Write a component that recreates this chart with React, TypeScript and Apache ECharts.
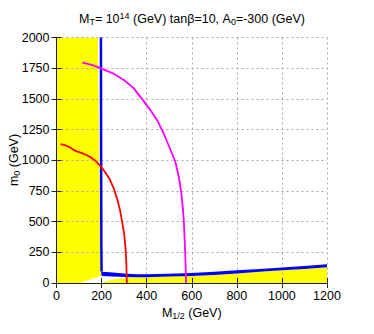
import React, { useEffect, useRef } from "react";
import * as echarts from "echarts";

// x: M_1/2 (GeV), y: m_0 (GeV)
const xTicks = [0, 200, 400, 600, 800, 1000, 1200];
const yTicks = [0, 250, 500, 750, 1000, 1250, 1500, 1750, 2000];

const redCurve: [number, number][] = [
  [18, 1132], [40, 1122], [60, 1105], [75, 1085], [90, 1072], [110, 1060],
  [130, 1045], [150, 1026], [170, 1000], [193, 956], [215, 905], [235, 850],
  [256, 760], [270, 680], [282, 590], [292, 490], [300, 400], [306, 290],
  [310, 160], [311, 60], [312, 0],
];

const magentaCurve: [number, number][] = [
  [115, 1795], [160, 1775], [198, 1749], [250, 1708], [300, 1652], [340, 1592],
  [379, 1500], [420, 1400], [450, 1315], [475, 1220], [500, 1110], [527, 990],
  [542, 870], [553, 744], [560, 620], [565, 500], [568, 370], [571, 247],
  [573, 120], [575, 0],
];

const blueVertical: [number, number][] = [
  [197, 2000], [198, 1000], [199, 300], [200, 95],
];

const blueBandUpper: [number, number][] = [
  [198, 100], [205, 92], [250, 85], [300, 78], [350, 72], [400, 72], [500, 76],
  [600, 82], [700, 92], [800, 103], [900, 115], [1000, 126], [1100, 139], [1200, 152],
];
const blueBandLower: [number, number][] = [
  [200, 58], [250, 52], [300, 48], [350, 46], [400, 47], [500, 52], [600, 57],
  [700, 65], [800, 78], [900, 92], [1000, 103], [1100, 115], [1200, 128],
];

const yellowLeft: [number, number][] = [
  [0, 0], [0, 2000], [184, 2000], [190, 1000], [195, 300], [199, 190],
  [202, 100], [196, 58], [104, 0],
];
const yellowBottom: [number, number][] = [
  [201, 0], [230, 20], [280, 38], [350, 46], [400, 47], [500, 52], [600, 57],
  [700, 65], [800, 78], [900, 92], [1000, 103], [1100, 115], [1200, 128], [1200, 0],
];

const FONT = "Liberation Sans";
const FS = 12.5;

function polySeries(points: [number, number][], color: string, z: number) {
  return {
    type: "custom",
    coordinateSystem: "cartesian2d",
    silent: true,
    z,
    clip: true,
    data: [[points[0][0], points[0][1]]],
    renderItem: (_params: any, api: any) => ({
      type: "polygon",
      shape: { points: points.map((p) => api.coord(p)) },
      style: { fill: color, stroke: null },
    }),
  };
}

export default function App() {
  const ref = useRef<HTMLDivElement>(null);
  useEffect(() => {
    if (!ref.current) return;
    const chart = echarts.init(ref.current, undefined, { renderer: "svg" });
    const splitLine = {
      show: true,
      lineStyle: { color: "#a8a8a8", width: 1, type: [2, 3] as any },
    };
    const axisLine = { show: true, lineStyle: { color: "#222", width: 1 } };
    const axisTick = {
      show: true,
      inside: true,
      length: 5,
      lineStyle: { color: "#222", width: 1 },
    };
    const rich = {
      a: { fontFamily: FONT, fontSize: FS, color: "#000" },
      s: { fontFamily: FONT, fontSize: 9, color: "#000", padding: [6, 0, 0, 0] },
      p: { fontFamily: FONT, fontSize: 9, color: "#000", padding: [0, 0, 7, 0] },
    };
    const option: any = {
      animation: false,
      backgroundColor: "#fff",
      textStyle: { fontFamily: FONT },
      grid: {
        left: 56.5,
        right: 47,
        top: 37.5,
        bottom: 51,
        containLabel: false,
        outerBoundsMode: "none",
      },
      graphic: [
        {
          type: "text",
          x: 192,
          y: 19,
          z: 10,
          style: {
            text: "{a|M}{s|T}{a|= 10}{p|14}{a| (GeV) tanβ=10, A}{s|0}{a|=-300 (GeV)}",
            align: "center",
            verticalAlign: "middle",
            rich,
          },
        },
        {
          type: "text",
          x: 14,
          y: 160,
          rotation: Math.PI / 2,
          z: 10,
          style: {
            text: "{a|m}{s|0}{a| (GeV)}",
            align: "center",
            verticalAlign: "middle",
            rich,
          },
        },
      ],
      xAxis: [
        {
          type: "value",
          min: 0,
          max: 1200,
          interval: 200,
          z: 1,
          position: "bottom",
          name: "{a|M}{s|1/2}{a| (GeV)}",
          nameLocation: "middle",
          nameGap: 21,
          nameTextStyle: { rich },
          axisLine,
          axisTick,
          splitLine,
          axisLabel: {
            margin: 6,
            fontFamily: FONT,
            fontSize: FS,
            color: "#000",
            formatter: (v: number) => (xTicks.includes(v) ? String(v) : ""),
          },
        },
        {
          type: "value",
          min: 0,
          max: 1200,
          interval: 200,
          z: 1,
          position: "top",
          axisLine,
          axisTick,
          splitLine: { show: false },
          axisLabel: { show: false },
        },
      ],
      yAxis: [
        {
          type: "value",
          min: 0,
          max: 2000,
          interval: 250,
          z: 1,
          position: "left",
          axisLine,
          axisTick,
          splitLine,
          axisLabel: {
            margin: 7,
            fontFamily: FONT,
            fontSize: FS,
            color: "#000",
            formatter: (v: number) => (yTicks.includes(v) ? String(v) : ""),
          },
        },
        {
          type: "value",
          min: 0,
          max: 2000,
          interval: 250,
          z: 1,
          position: "right",
          axisLine,
          axisTick,
          splitLine: { show: false },
          axisLabel: { show: false },
        },
      ],
      series: [
        polySeries(yellowLeft, "#ffff00", 0.5),
        polySeries(yellowBottom, "#ffff00", 0.5),
        polySeries([...blueBandUpper, ...[...blueBandLower].reverse()], "#0000ff", 3),
        {
          type: "line",
          data: blueVertical,
          showSymbol: false,
          symbol: "none",
          z: 3,
          lineStyle: { color: "#0000ff", width: 2.5 },
        },
        {
          type: "line",
          data: redCurve,
          showSymbol: false,
          symbol: "none",
          z: 4,
          lineStyle: { color: "#ff0000", width: 1.8 },
        },
        {
          type: "line",
          data: magentaCurve,
          showSymbol: false,
          symbol: "none",
          z: 4,
          lineStyle: { color: "#ff00ff", width: 1.8 },
        },
      ],
    };
    chart.setOption(option);
    return () => chart.dispose();
  }, []);
  return (
    <div
      ref={ref}
      style={{ position: "fixed", left: 0, top: 0, width: 374, height: 334 }}
    />
  );
}
